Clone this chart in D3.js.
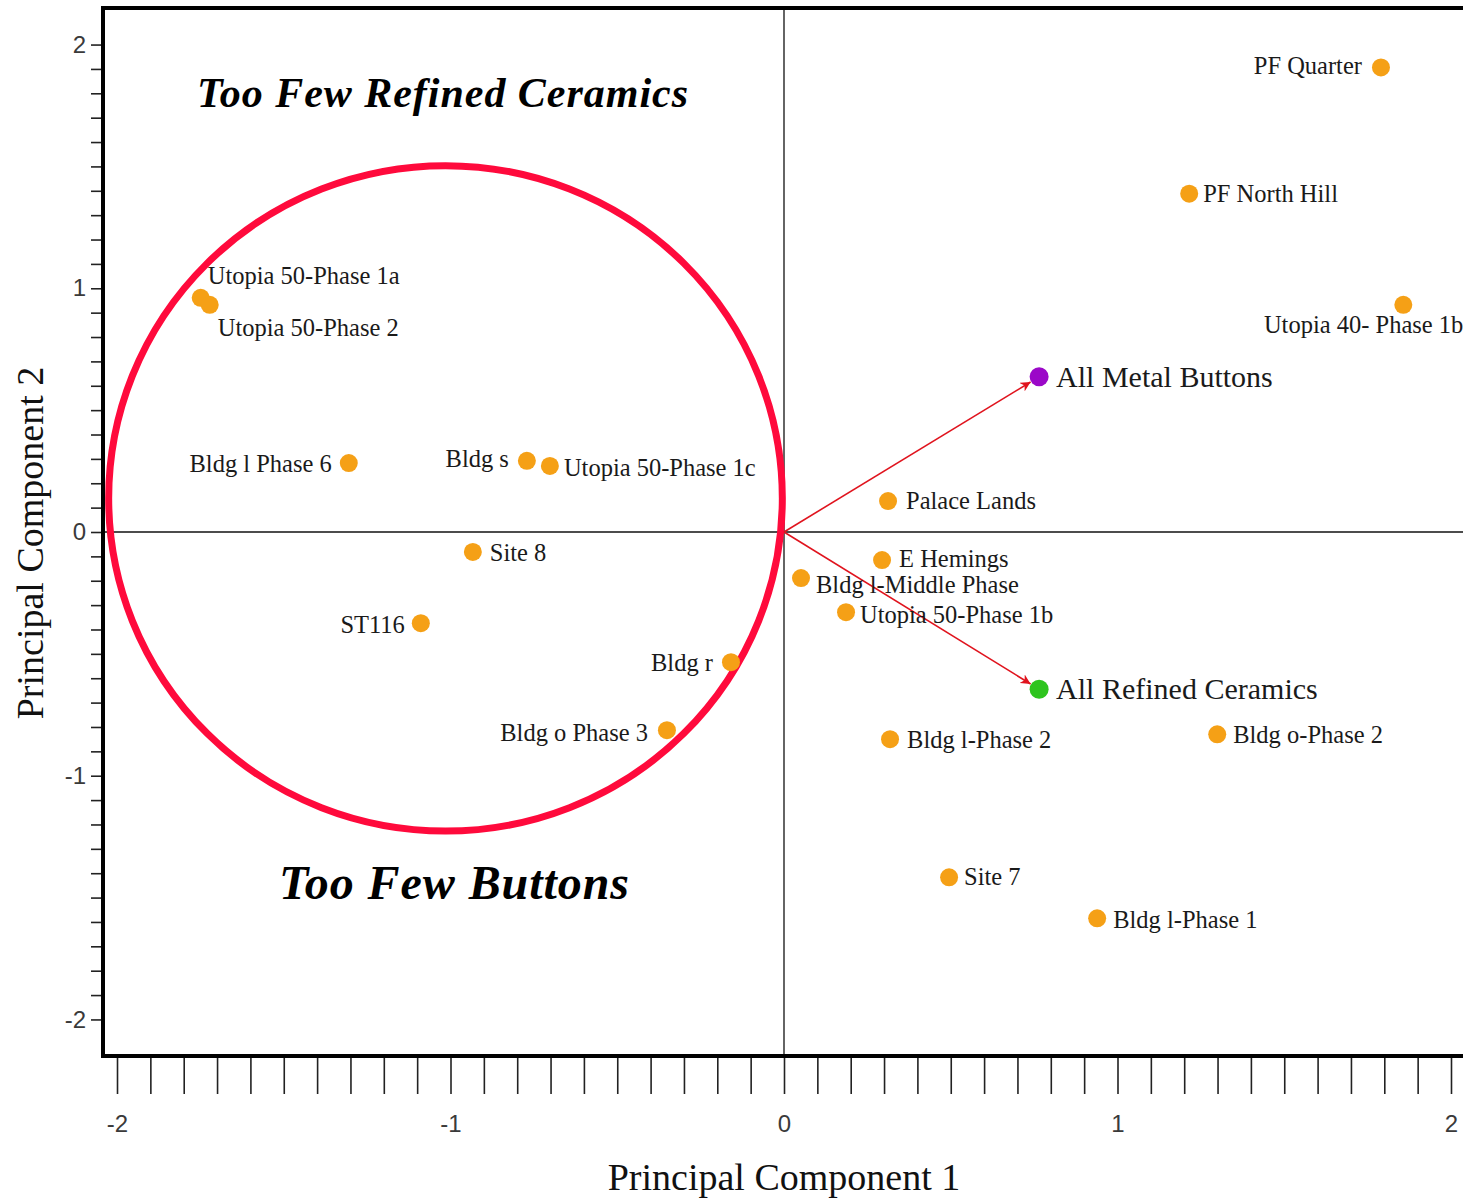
<!DOCTYPE html>
<html lang="en">
<head>
  <meta charset="UTF-8">
  <title>PCA biplot</title>
  <style>
    body { margin: 0; background: #fff; }
    .site-label { font-family: "Liberation Serif", "DejaVu Serif", serif; font-size: 24.5px; fill: #1a1a1a; }
    .vec-label { font-family: "Liberation Serif", "DejaVu Serif", serif; font-size: 30px; fill: #1a1a1a; }
    .region { font-family: "Liberation Serif", serif; font-weight: bold; font-style: italic; fill: #000; }
    .axis text { font-family: "Liberation Sans", Arial, sans-serif; font-size: 24px; fill: #3a3a3a; }
    .axis line { stroke: #222; stroke-width: 1.6; }
    .axis path { display: none; }
    .axis-title { font-family: "Liberation Serif", serif; font-size: 38px; fill: #111; }
  </style>
</head>
<body>
  <div id="chart"></div>
  <script src="https://cdn.jsdelivr.net/npm/d3@7"></script>
  <script>
    // sample scores
    var siteNames = [
      'PF Quarter', 'PF North Hill', 'Utopia 40- Phase 1b', 'Palace Lands', 'E Hemings',
      'Bldg l-Middle Phase', 'Utopia 50-Phase 1b', 'Bldg l-Phase 2', 'Bldg o-Phase 2', 'Site 7',
      'Bldg l-Phase 1', 'Utopia 50-Phase 1a', 'Utopia 50-Phase 2', 'Bldg l Phase 6', 'Bldg s',
      'Utopia 50-Phase 1c', 'Site 8', 'ST116', 'Bldg r', 'Bldg o Phase 3'
    ];
    var sitePC1 = [1.79, 1.215, 1.857, 0.312, 0.294, 0.051, 0.186, 0.318, 1.299, 0.495,
      0.939, -1.749, -1.722, -1.305, -0.771, -0.702, -0.933, -1.089, -0.159, -0.351];
    var sitePC2 = [1.906, 1.388, 0.932, 0.127, -0.115, -0.189, -0.329, -0.850, -0.830, -1.417,
      -1.585, 0.961, 0.932, 0.283, 0.292, 0.271, -0.082, -0.374, -0.534, -0.813];

    // variable loadings
    var vectorNames = ['All Metal Buttons', 'All Refined Ceramics'];
    var vectorPC1 = [0.765, 0.765];
    var vectorPC2 = [0.637, -0.645];
    var vectorColors = ['#9b08c8', '#2ec41e'];

    var tickValues = d3.range(-20, 21).map(function (d) { return d / 10; });

    // label placement: [dx, dy, anchor]
    var labelPlace = {
      'PF Quarter': [-19, 7, 'end'],
      'PF North Hill': [14, 8, 'start'],
      'Utopia 40- Phase 1b': [60, 28, 'end'],
      'Palace Lands': [18, 8, 'start'],
      'E Hemings': [17, 7, 'start'],
      'Bldg l-Middle Phase': [15, 15, 'start'],
      'Utopia 50-Phase 1b': [14, 11, 'start'],
      'Bldg l-Phase 2': [17, 9, 'start'],
      'Bldg o-Phase 2': [16, 9, 'start'],
      'Site 7': [15, 8, 'start'],
      'Bldg l-Phase 1': [16, 10, 'start'],
      'Utopia 50-Phase 1a': [7, -14, 'start'],
      'Utopia 50-Phase 2': [8, 31, 'start'],
      'Bldg l Phase 6': [-17, 9, 'end'],
      'Bldg s': [-18, 6, 'end'],
      'Utopia 50-Phase 1c': [14, 10, 'start'],
      'Site 8': [17, 9, 'start'],
      'ST116': [-16, 10, 'end'],
      'Bldg r': [-18, 9, 'end'],
      'Bldg o Phase 3': [-19, 11, 'end']
    };

    var W = 1463, H = 1198;
    var plot = { left: 103, top: 8, right: 1465, bottom: 1056 };
    var r = 9;

    var svg = d3.select('#chart').append('svg')
      .attr('width', W)
      .attr('height', H);

    var x = d3.scaleLinear().domain([-2.042, 2.042]).range([plot.left, plot.right]);
    var y = d3.scaleLinear().domain([-2.15, 2.15]).range([plot.bottom, plot.top]);

    function fmt(d) {
      return Math.abs(d - Math.round(d)) < 1e-9 ? String(Math.round(d)) : '';
    }

    svg.append('defs').append('marker')
      .attr('id', 'arrow')
      .attr('viewBox', '0 0 10 10')
      .attr('refX', 10)
      .attr('refY', 5)
      .attr('markerWidth', 10)
      .attr('markerHeight', 10)
      .attr('markerUnits', 'userSpaceOnUse')
      .attr('orient', 'auto')
      .append('path')
      .attr('d', 'M0,0 L10,5 L0,10 L3,5 Z')
      .attr('fill', '#e0141e');

    // axes
    svg.append('g')
      .attr('class', 'axis')
      .attr('transform', 'translate(' + plot.left + ',0)')
      .call(d3.axisLeft(y).tickValues(tickValues).tickSize(12).tickPadding(5).tickFormat(fmt));

    svg.append('g')
      .attr('class', 'axis')
      .attr('transform', 'translate(0,' + plot.bottom + ')')
      .call(d3.axisBottom(x).tickValues(tickValues).tickSize(38).tickPadding(21).tickFormat(fmt));

    // zero lines
    svg.append('line')
      .attr('x1', x(0)).attr('x2', x(0))
      .attr('y1', plot.top).attr('y2', plot.bottom)
      .attr('stroke', '#111').attr('stroke-width', 1.3);
    svg.append('line')
      .attr('x1', plot.left).attr('x2', plot.right)
      .attr('y1', y(0)).attr('y2', y(0))
      .attr('stroke', '#111').attr('stroke-width', 1.3);

    // frame
    svg.append('rect')
      .attr('x', plot.left).attr('y', plot.top)
      .attr('width', plot.right - plot.left)
      .attr('height', plot.bottom - plot.top)
      .attr('fill', 'none')
      .attr('stroke', '#000')
      .attr('stroke-width', 4);

    // highlight ellipse
    var ell = { cx: -1.015, cy: 0.138, rx: 1.01, ry: 1.365 };
    svg.append('ellipse')
      .attr('cx', x(ell.cx))
      .attr('cy', y(ell.cy))
      .attr('rx', x(ell.rx) - x(0))
      .attr('ry', y(0) - y(ell.ry))
      .attr('fill', 'none')
      .attr('stroke', '#ff0a3c')
      .attr('stroke-width', 7);

    // region captions
    svg.append('text')
      .attr('class', 'region')
      .attr('x', 197).attr('y', 107)
      .style('font-size', '42px')
      .attr('textLength', 491)
      .text('Too Few Refined Ceramics');
    svg.append('text')
      .attr('class', 'region')
      .attr('x', 279).attr('y', 899)
      .style('font-size', '48px')
      .attr('textLength', 350)
      .text('Too Few Buttons');

    // loading arrows
    var vectors = vectorNames.map(function (n, i) {
      return { name: n, pc1: vectorPC1[i], pc2: vectorPC2[i], color: vectorColors[i] };
    });
    svg.selectAll('line.vec')
      .data(vectors)
      .enter()
      .append('line')
      .attr('class', 'vec')
      .attr('x1', x(0))
      .attr('y1', y(0))
      .attr('x2', function (d) {
        var dx = x(d.pc1) - x(0), dy = y(d.pc2) - y(0), L = Math.sqrt(dx * dx + dy * dy);
        return x(d.pc1) - dx / L * (r + 1);
      })
      .attr('y2', function (d) {
        var dx = x(d.pc1) - x(0), dy = y(d.pc2) - y(0), L = Math.sqrt(dx * dx + dy * dy);
        return y(d.pc2) - dy / L * (r + 1);
      })
      .attr('stroke', '#e0141e')
      .attr('stroke-width', 1.6)
      .attr('marker-end', 'url(#arrow)');

    var vg = svg.selectAll('g.vecpt')
      .data(vectors)
      .enter()
      .append('g')
      .attr('class', 'vecpt');
    vg.append('circle')
      .attr('cx', function (d) { return x(d.pc1); })
      .attr('cy', function (d) { return y(d.pc2); })
      .attr('r', r + 0.5)
      .attr('fill', function (d) { return d.color; });
    vg.append('text')
      .attr('class', 'vec-label')
      .attr('x', function (d) { return x(d.pc1) + 17; })
      .attr('y', function (d) { return y(d.pc2) + 10; })
      .text(function (d) { return d.name; });

    // sites
    var sites = siteNames.map(function (n, i) {
      return { name: n, pc1: sitePC1[i], pc2: sitePC2[i] };
    });
    var g = svg.selectAll('g.site')
      .data(sites)
      .enter()
      .append('g')
      .attr('class', 'site');
    g.append('circle')
      .attr('cx', function (d) { return x(d.pc1); })
      .attr('cy', function (d) { return y(d.pc2); })
      .attr('r', r)
      .attr('fill', '#f5a016');
    g.append('text')
      .attr('class', 'site-label')
      .attr('x', function (d) { return x(d.pc1) + labelPlace[d.name][0]; })
      .attr('y', function (d) { return y(d.pc2) + labelPlace[d.name][1]; })
      .attr('text-anchor', function (d) { return labelPlace[d.name][2]; })
      .text(function (d) { return d.name; });

    // axis titles
    svg.append('text')
      .attr('class', 'axis-title')
      .attr('x', x(0))
      .attr('y', 1190)
      .attr('text-anchor', 'middle')
      .text('Principal Component 1');
    svg.append('text')
      .attr('class', 'axis-title')
      .attr('transform', 'translate(43,' + 543 + ') rotate(-90)')
      .attr('text-anchor', 'middle')
      .text('Principal Component 2');
  </script>
</body>
</html>
